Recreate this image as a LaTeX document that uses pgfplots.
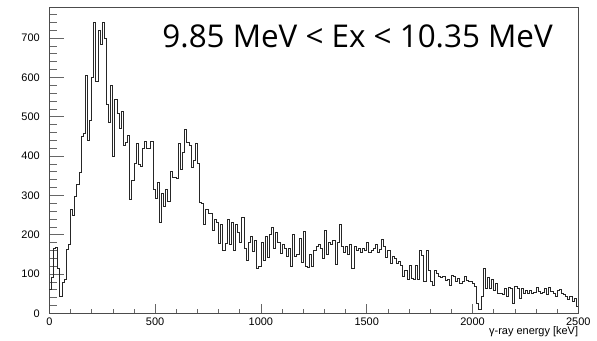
\documentclass[border=0pt]{standalone}
\usepackage{pgfplots}
\pgfplotsset{compat=1.18}
\usepackage{pgfplotstable}
\usepackage{fontspec}
\setmainfont{Liberation Sans}
\newfontfamily\titlefont{Open Sans}
\pgfplotstableread{
E y
0 60
10 92
20 165
30 168
40 115
50 42
60 78
70 85
80 163
90 175
100 265
110 248
120 297
130 328
140 357
150 450
160 458
170 605
180 440
190 490
200 600
210 740
220 590
230 720
240 683
250 740
260 700
270 530
280 485
290 580
300 400
310 545
320 508
330 470
340 513
350 428
360 435
370 452
380 290
390 338
400 380
410 432
420 378
430 373
440 420
450 436
460 420
470 418
480 437
490 316
500 293
510 334
520 230
530 305
540 272
550 315
560 285
570 362
580 345
590 345
600 342
610 433
620 365
630 408
640 468
650 435
660 428
670 372
680 390
690 433
700 380
710 283
720 280
730 227
740 265
750 254
760 255
770 210
780 240
790 230
800 177
810 225
820 160
830 178
840 240
850 175
860 232
870 160
880 225
890 205
900 180
910 243
920 165
930 135
940 180
950 195
960 158
970 185
980 115
990 120
1000 180
1010 135
1020 195
1030 143
1040 200
1050 218
1060 165
1070 205
1080 180
1090 153
1100 175
1110 166
1120 145
1130 165
1140 120
1150 200
1160 145
1170 150
1180 190
1190 130
1200 208
1210 120
1220 116
1230 150
1240 120
1250 160
1260 170
1270 175
1280 165
1290 140
1300 210
1310 150
1320 180
1330 175
1340 185
1350 125
1360 180
1370 225
1380 170
1390 155
1400 170
1410 150
1420 175
1430 115
1440 170
1450 160
1460 165
1470 155
1480 165
1490 160
1500 180
1510 155
1520 160
1530 165
1540 175
1550 155
1560 163
1570 187
1580 170
1590 142
1600 161
1610 127
1620 144
1630 140
1640 127
1650 131
1660 123
1670 95
1680 110
1690 85
1700 123
1710 89
1720 85
1730 123
1740 85
1750 161
1760 146
1770 80
1780 161
1790 110
1800 80
1810 70
1820 110
1830 102
1840 95
1850 92
1860 93
1870 83
1880 87
1890 72
1900 97
1910 93
1920 80
1930 89
1940 75
1950 80
1960 93
1970 83
1980 80
1990 80
2000 76
2010 68
2020 24
2030 10
2040 44
2050 115
2060 64
2070 92
2080 64
2090 85
2100 59
2110 76
2120 51
2130 51
2140 47
2150 64
2160 42
2170 66
2180 64
2190 25
2200 68
2210 64
2220 38
2230 64
2240 51
2250 59
2260 51
2270 59
2280 51
2290 53
2300 66
2310 55
2320 51
2330 53
2340 64
2350 49
2360 66
2370 55
2380 51
2390 42
2400 59
2410 61
2420 51
2430 49
2440 42
2450 36
2460 42
2470 30
2480 38
2490 17
2500 17
}\histdata
\begin{document}
\begin{tikzpicture}
\useasboundingbox (-49.3bp,-27.7bp) rectangle (547.7bp,313.3bp);
% overlay axis carrying only the (longer) y ticks
\begin{axis}[
  at={(0,0)}, anchor=south west,
  scale only axis,
  width=529bp, height=306bp,
  xmin=0, xmax=2500, ymin=0, ymax=778,
  xtick=\empty,
  ytick={0,100,...,700},
  minor ytick={0,20,...,770},
  yticklabels={},
  tick pos=left,
  tick align=inside,
  major tick length=15bp, minor tick length=7.5bp,
  axis line style={black!70, line width=0.6bp},
  tick style={black!60, line width=0.5bp},
]
\end{axis}
\begin{axis}[
  at={(0,0)}, anchor=south west,
  scale only axis,
  width=529bp, height=306bp,
  xmin=0, xmax=2500, ymin=0, ymax=778,
  xtick={0,500,...,2500},
  ytick={0,100,...,700},
  minor xtick={0,100,...,2500},
  tick pos=left,
  tick align=inside,
  major tick length=9bp, minor tick length=4.5bp,
  axis line style={black!70, line width=0.6bp},
  xtick style={black!60, line width=0.5bp},
  ytick style={draw=none},
  /pgf/number format/assume math mode=true,
  /pgf/number format/set thousands separator={},
  scaled ticks=false,
  xticklabel style={font=\fontsize{11}{12}\selectfont, yshift=-1bp},
  yticklabel style={font=\fontsize{11}{12}\selectfont, xshift=-6bp},
  clip=false,
]
\addplot[const plot mark left, black!85, line width=0.8bp] table[x=E, y=y] {\histdata};
\node[anchor=base east, inner sep=0pt, font=\fontsize{11}{12}\selectfont] at (axis description cs:1,0) [yshift=-21.5bp] {γ-ray energy [keV]};
\node[anchor=east, inner sep=0pt, font=\titlefont\fontsize{31.5}{34}\selectfont] at (axis description cs:0.952,0.905) {9.85 MeV < Ex < 10.35 MeV};
\end{axis}
\end{tikzpicture}
\end{document}
